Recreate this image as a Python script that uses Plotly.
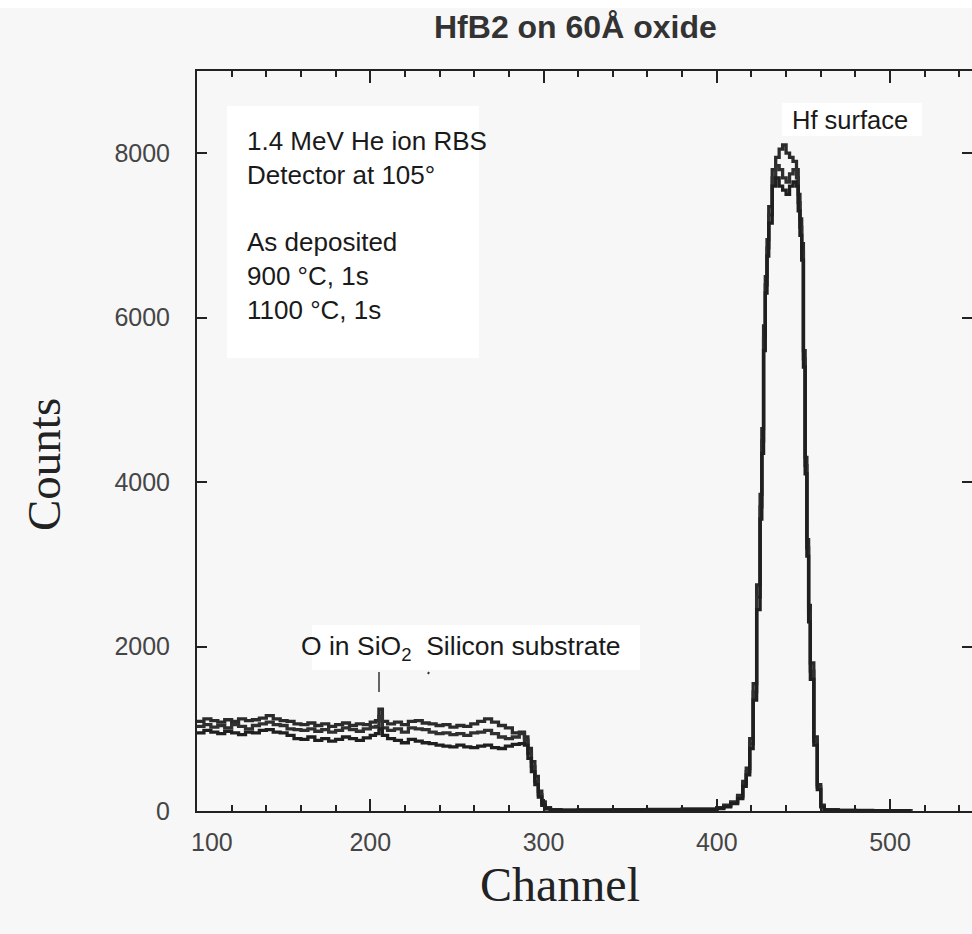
import plotly.graph_objects as go

# ---------------- data ----------------
channel = [100, 104, 108, 112, 116, 120, 124, 128, 132, 136, 140, 144, 148, 152, 156, 160,
           164, 168, 172, 176, 180, 184, 188, 192, 196, 200,
           203, 205, 207,
           210, 214, 218, 222, 226, 230, 234, 238, 242, 246, 250, 254, 258, 262, 266, 270,
           274, 278, 282, 286,
           289, 291, 293, 295, 297, 299, 301, 304, 310,
           320, 340, 360, 380, 400,
           404, 408, 412, 415, 417, 419, 421, 423, 425, 426, 427, 428, 429, 430, 432, 434,
           436, 438, 440, 442, 444, 446, 447, 448, 449, 450, 451, 452, 453, 454, 456, 458,
           460, 462,
           470, 480, 490, 500, 512]

as_deposited = [1090, 1120, 1100, 1080, 1110, 1090, 1120, 1100, 1110, 1130, 1160, 1120, 1100, 1090, 1060, 1050,
                1070, 1040, 1060, 1030, 1050, 1070, 1040, 1060, 1050, 1080,
                1100, 1240, 1090,
                1060, 1080, 1050, 1090, 1100, 1070, 1060, 1040, 1050, 1020, 1040, 1030, 1060, 1090, 1120, 1080,
                1040, 1010, 950, 960,
                900, 760, 600, 420, 240, 110, 40, 15, 10,
                12, 15, 18, 22, 40,
                70, 110, 190, 360, 520, 880, 1550, 2750, 3850, 4650, 5900, 6500, 6950, 7350, 7800, 7950,
                8050, 8100, 8000, 7950, 7900, 7800, 7500, 7200, 6900, 5600, 4300, 3300, 2500, 1800, 900, 320,
                70, 15,
                8, 6, 5, 5, 4]

anneal_900 = [1030, 1050, 1020, 1040, 1010, 1050, 1030, 1000, 1040, 1060, 1080, 1050, 1040, 1000, 990, 980,
              1000, 970, 990, 960, 980, 1010, 990, 970, 1000, 1020,
              1030, 1150, 1010,
              980, 1000, 960, 1010, 1000, 990, 960, 940, 950, 930, 940, 920, 950, 960, 980, 940,
              900, 880, 900, 940,
              860, 700, 540, 360, 200, 90, 30, 12, 8,
              10, 12, 15, 20, 35,
              60, 100, 170, 330, 480, 820, 1450, 2600, 3700, 4500, 5750, 6400, 6850, 7250, 7700, 7850,
              7800, 7700, 7650, 7750, 7800, 7700, 7400, 7100, 6800, 5500, 4200, 3200, 2400, 1700, 850, 290,
              60, 12,
              6, 5, 4, 4, 3]

anneal_1100 = [950, 980, 960, 940, 970, 950, 930, 960, 950, 980, 990, 960, 950, 920, 880, 870,
               900, 860, 880, 850, 870, 900, 880, 860, 890, 920,
               940, 1000, 920,
               880, 860, 830, 870, 850, 830, 820, 800, 790, 780, 800, 780, 770, 790, 800, 770,
               760, 790, 810, 820,
               800, 640, 480, 320, 170, 70, 25, 10, 6,
               8, 10, 14, 18, 30,
               50, 90, 150, 300, 440, 760, 1350, 2450, 3550, 4350, 5600, 6300, 6750, 7150, 7600, 7700,
               7600, 7550, 7500, 7600, 7650, 7600, 7300, 7000, 6700, 5400, 4100, 3100, 2300, 1600, 800, 260,
               50, 10,
               5, 4, 4, 3, 3]

series_names = ["As deposited", "900 °C, 1s", "1100 °C, 1s"]
x_ticks = [100, 200, 300, 400, 500]
y_ticks = [0, 2000, 4000, 6000, 8000]

assert len(channel) == len(as_deposited) == len(anneal_900) == len(anneal_1100)

# ---------------- layout geometry (pixels) ----------------
W, H = 972, 934
L, R, T, B = 197, 0, 71, 123
BG = "#f7f7f7"


def px(x):
    return (x - L) / (W - L - R)


def py(y):
    return (H - B - y) / (H - T - B)


fig = go.Figure()
line_colors = ["#2b2b2b", "#303030", "#1f1f1f"]
for name, vals, col in zip(series_names, [as_deposited, anneal_900, anneal_1100], line_colors):
    fig.add_trace(go.Scatter(x=channel, y=vals, mode="lines", name=name,
                             line=dict(color=col, width=3.3, shape="hv"),
                             showlegend=False))

# invisible trace on the right-hand y axis so that its ticks are drawn
fig.add_trace(go.Scatter(x=[channel[0]], y=[0], yaxis="y2", mode="markers",
                         marker=dict(opacity=0), showlegend=False, hoverinfo="skip"))

sans = "Arial, Liberation Sans, sans-serif"
serif = "Times New Roman, Liberation Serif, serif"
tickfont = dict(family=sans, size=25, color="#454545")

fig.update_layout(
    width=W, height=H,
    margin=dict(l=L, r=R, t=T, b=B, pad=0),
    paper_bgcolor=BG, plot_bgcolor=BG,
    xaxis=dict(range=[100, 547.3], tickvals=x_ticks, ticktext=[""] + [str(v) for v in x_ticks[1:]],
               ticks="inside", ticklen=12, tickwidth=1.5,
               tickcolor="#222", showline=True, linecolor="#222", linewidth=2, mirror="ticks",
               showgrid=False, zeroline=False, tickfont=tickfont, ticklabelstandoff=8,
               minor=dict(dtick=20, tick0=100, ticks="inside", ticklen=6, tickwidth=1.5, tickcolor="#222")),
    yaxis=dict(range=[0, 9000], tickvals=y_ticks, ticks="inside", ticklen=10, tickwidth=1.5,
               tickcolor="#222", showline=True, linecolor="#222", linewidth=2,
               showgrid=False, zeroline=False, tickfont=tickfont, ticklabelstandoff=20),
    yaxis2=dict(range=[0, 9000], tickvals=y_ticks, ticks="inside", ticklen=10, tickwidth=1.5,
                tickcolor="#222", overlaying="y", side="right", showline=False,
                showticklabels=False, showgrid=False, zeroline=False),
)

shapes = [
    # white strip at the very top
    dict(type="rect", xref="paper", yref="paper", x0=px(0), x1=px(W), y0=py(8), y1=py(0),
         fillcolor="white", line=dict(width=0), layer="below"),
    # white text boxes
    dict(type="rect", xref="paper", yref="paper", x0=px(227), x1=px(479), y0=py(358), y1=py(106),
         fillcolor="white", line=dict(width=0), layer="below"),
    dict(type="rect", xref="paper", yref="paper", x0=px(782), x1=px(922), y0=py(136), y1=py(103),
         fillcolor="white", line=dict(width=0), layer="below"),
    dict(type="rect", xref="paper", yref="paper", x0=px(312), x1=px(640), y0=py(670), y1=py(625),
         fillcolor="white", line=dict(width=0), layer="below"),
    # marker line for O in SiO2
    dict(type="line", xref="paper", yref="paper", x0=px(379), x1=px(379), y0=py(692), y1=py(672),
         line=dict(color="#333", width=1.5)),
    dict(type="line", xref="paper", yref="paper", x0=px(428), x1=px(429), y0=py(674), y1=py(672),
         line=dict(color="#333", width=2)),
]
fig.update_layout(shapes=shapes)

ann = [
    dict(text="<b>HfB2 on 60Å oxide</b>", x=px(575), y=py(27), xref="paper", yref="paper",
         showarrow=False, xanchor="center", yanchor="middle",
         font=dict(family=sans, size=32, color="#333")),
    dict(text="1.4 MeV He ion RBS<br>Detector at 105°<br> <br>" + "<br>".join(series_names),
         x=px(245), y=py(124), xref="paper", yref="paper", showarrow=False,
         xanchor="left", yanchor="top", align="left",
         font=dict(family=sans, size=26, color="#1a1a1a")),
    dict(text="Hf surface", x=px(850), y=py(120), xref="paper", yref="paper", showarrow=False,
         xanchor="center", yanchor="middle", font=dict(family=sans, size=25.5, color="#1a1a1a")),
    dict(text="O in SiO<sub>2</sub>  Silicon substrate", x=px(461), y=py(648), xref="paper", yref="paper",
         showarrow=False, xanchor="center", yanchor="middle",
         font=dict(family=sans, size=26.5, color="#1a1a1a")),
    dict(text="100", x=px(212), y=py(842), xref="paper", yref="paper", showarrow=False,
         xanchor="center", yanchor="middle", font=tickfont),
    dict(text="Counts", x=px(44), y=py(465), xref="paper", yref="paper", showarrow=False,
         textangle=-90, xanchor="center", yanchor="middle",
         font=dict(family=serif, size=47, color="#222")),
    dict(text="Channel", x=px(560), y=py(884), xref="paper", yref="paper", showarrow=False,
         xanchor="center", yanchor="middle", font=dict(family=serif, size=48, color="#222")),
]
fig.update_layout(annotations=ann)

fig.write_html("out.html")
